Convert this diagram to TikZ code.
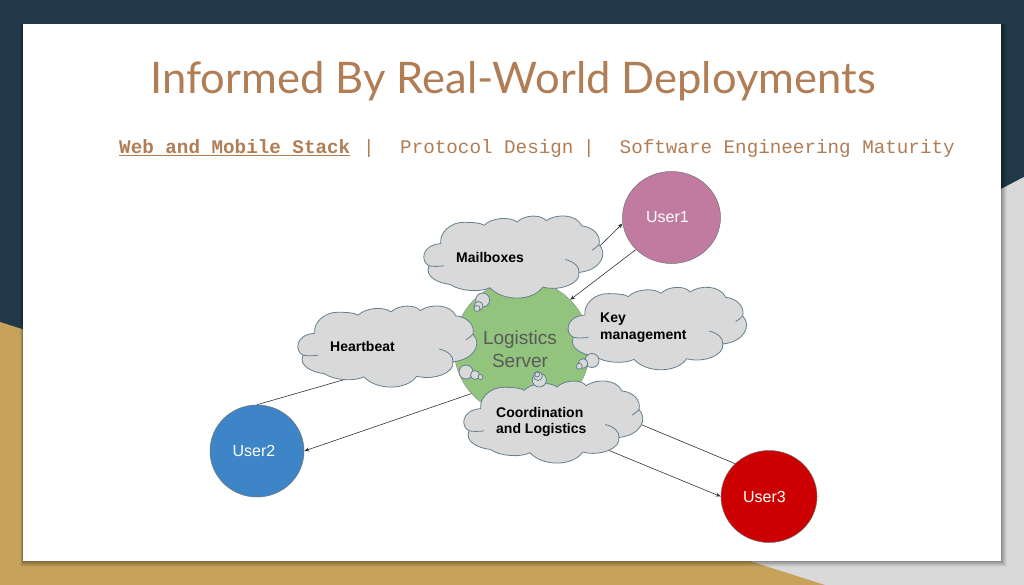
\documentclass[tikz,border=0pt]{standalone}
\usepackage{fontspec}
\setmainfont{Liberation Sans}
\newfontfamily\titlefont{Lato}
\newfontfamily\monofont{Liberation Mono}
\usetikzlibrary{shapes.geometric,arrows.meta}
\definecolor{bgdark}{HTML}{203847}
\definecolor{bggold}{HTML}{C6A25B}
\definecolor{bggrey}{HTML}{D9D9D9}
\definecolor{brown}{HTML}{B17D55}
\definecolor{cloudfill}{HTML}{D9D9D9}
\definecolor{cloudline}{HTML}{64808E}
\tikzset{
  usernode/.style={ellipse,draw=black!55,line width=.5pt,inner sep=0pt},
  usertext/.style={text=white,font=\fontsize{16}{20}\selectfont,inner sep=0pt},
  link/.style={draw=black!80,line width=.6pt},
  linkarrow/.style={link,-{Stealth[length=5pt,width=4pt]}},
  cloudedge/.style={draw=cloudline,line width=.8pt,line join=round},
  bubble/.style={circle,cloudedge,fill=cloudfill,inner sep=0pt},
  cloudtext/.style={font=\bfseries\fontsize{14}{16.7}\selectfont,text=black,inner sep=0pt,align=left},
  submenu/.style={font=\monofont\fontsize{19.25}{22}\selectfont,text=brown,inner sep=0pt,anchor=base west},
}
\newcommand{\cloudat}[4]{%
  \begin{scope}[shift={(#1,#2)},xscale=#3/535,yscale=#4/250,shift={(-25,-22)}]
    \path[cloudedge,fill=cloudfill] (75,105)
      .. controls (70,72) and (105,40) .. (145,41)
      .. controls (170,41) and (195,43) .. (205,50)
      .. controls (225,28) and (280,22) .. (303,40)
      .. controls (325,18) and (375,16) .. (390,36)
      .. controls (420,15) and (480,15) .. (497,52)
      .. controls (530,55) and (555,80) .. (548,108)
      .. controls (575,135) and (555,185) .. (488,192)
      .. controls (495,225) and (430,250) .. (380,236)
      .. controls (350,280) and (260,280) .. (222,238)
      .. controls (195,252) and (135,250) .. (103,228)
      .. controls (70,225) and (25,205) .. (40,172)
      .. controls (15,160) and (15,110) .. (75,105)
      -- cycle;
    \path[cloudedge] (447,153) .. controls (475,160) and (490,175) .. (488,192);
    \path[cloudedge] (527,125) .. controls (535,120) and (542,115) .. (548,108);
    \path[cloudedge] (40,172) .. controls (55,175) and (70,174) .. (85,172);
  \end{scope}}
\begin{document}
\begin{tikzpicture}[x=1pt,y=-1pt]
\useasboundingbox (0,0) rectangle (1024,585);
% backdrop
\fill[bgdark] (0,0) rectangle (1024,585);
\fill[bggrey] (1024,177) -- (1001,189) -- (600,400) -- (600,585) -- (1024,585) -- cycle;
\fill[bggold] (0,322) -- (825,585) -- (0,585) -- cycle;
% slide and shadow
\foreach \g/\o in {6/.04,5/.05,4/.06,3/.07,2/.08,1/.1}{
  \fill[black,opacity=\o] (23-.5*\g,24) rectangle (1001+\g,561+\g);
}
\fill[white] (23,24) rectangle (1001,561);
% heading
\node[font=\titlefont\fontsize{43.5}{48}\selectfont,text=brown,inner sep=0pt] (title) at (513,81) {Informed By Real-World Deployments};
\node[submenu,font=\monofont\bfseries\fontsize{19.25}{22}\selectfont] (mweb) at (119,154) {\underline{Web and Mobile Stack}};
\node[submenu] (msep1) at (363,154) {|};
\node[submenu] (mproto) at (400,154) {Protocol Design};
\node[submenu] (msep2) at (583,154) {|};
\node[submenu] (msoft) at (619.5,154) {Software Engineering Maturity};
% nodes
\node[circle,fill={rgb,255:red,147;green,196;blue,125},draw=black!45,line width=.4pt,minimum size=136pt,inner sep=0pt] (server) at (522,348) {};
\node[usernode,fill={rgb,255:red,194;green,123;blue,160},minimum width=98pt,minimum height=92pt] (user1) at (671.5,217.5) {};
\node[usernode,fill={rgb,255:red,61;green,133;blue,198},minimum width=94pt,minimum height=92pt] (user2) at (257,451) {};
\node[usernode,fill={rgb,255:red,204;green,0;blue,0},minimum width=96pt,minimum height=92pt] (user3) at (769,496.5) {};
\node[usertext] (tuser1) at (667.5,217.5) {User1};
\node[usertext] (tuser2) at (254,451) {User2};
\node[usertext] (tuser3) at (764.5,497) {User3};
% connectors
\draw[linkarrow] (server.60) -- (user1.187);
\draw[linkarrow] (user1.222) -- (server.45.6);
\draw[link] (user2.90) -- (server.180);
\draw[linkarrow] (server.222) -- (user2.0);
\draw[link] (user3.136) -- (server.-44);
\draw[linkarrow] (server.-87) -- (user3.180);
% clouds
\cloudat{424}{216}{179}{83}
\cloudat{298}{306}{179}{82}
\cloudat{568.3}{287.3}{178.4}{83.4}
\cloudat{464}{381}{179}{83}
% thought bubbles
\node[bubble,minimum size=14pt] (b1a) at (482.7,300) {};
\node[bubble,minimum size=9pt] (b1b) at (478.5,306) {};
\node[bubble,minimum size=6pt] (b1c) at (477,308.5) {};
\node[bubble,minimum size=14pt] (b2a) at (466,372) {};
\node[bubble,minimum size=9pt] (b2b) at (475,375) {};
\node[bubble,minimum size=5pt] (b2c) at (480.5,377) {};
\node[bubble,minimum size=14pt] (b3a) at (592,360.5) {};
\node[bubble,minimum size=9.5pt] (b3b) at (583,363.5) {};
\node[bubble,minimum size=6pt] (b3c) at (579.3,366.3) {};
\node[bubble,minimum size=14pt] (b4a) at (539.3,380) {};
\node[bubble,minimum size=9pt] (b4b) at (538,376) {};
\node[bubble,minimum size=5pt] (b4c) at (537.3,374.5) {};
% texts
\node[align=center,text=black!65,font=\fontsize{19}{22.5}\selectfont,inner sep=0pt] (slabel) at (520,349) {Logistics\\Server};
\node[cloudtext,anchor=west] (tmail) at (456,257) {Mailboxes};
\node[cloudtext,anchor=west] (tbeat) at (330,346) {Heartbeat};
\node[cloudtext,anchor=west] (tkey) at (600,328) {Key\\management};
\node[cloudtext,anchor=west] (tcoord) at (496,422) {Coordination\\and Logistics};
\end{tikzpicture}
\end{document}
